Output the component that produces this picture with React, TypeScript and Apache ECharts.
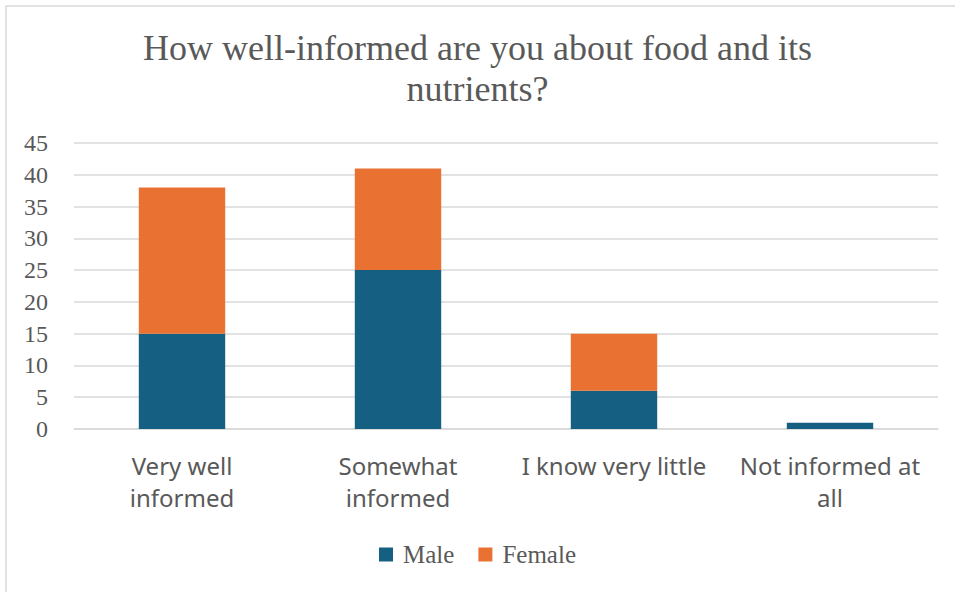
import React, { useEffect, useRef } from "react";
import * as echarts from "echarts";

const categories = [
  "Very well\ninformed",
  "Somewhat\ninformed",
  "I know very little",
  "Not informed at\nall",
];
const maleValues = [15, 25, 6, 1];
const femaleValues = [23, 16, 9, 0];
const yTicks = { min: 0, max: 45, interval: 5 };

const TEXT = "#595959";
const SERIF = "'Liberation Serif', 'DejaVu Serif', serif";
const SANS = "'Noto Sans', 'Open Sans', sans-serif";

export default function App() {
  const ref = useRef<HTMLDivElement>(null);

  useEffect(() => {
    if (!ref.current) return;
    const chart = echarts.init(ref.current, undefined, { renderer: "svg" });
    chart.setOption({
      animation: false,
      backgroundColor: "#ffffff",
      title: {
        text: "How well-informed are you about food and its\nnutrients?",
        left: "center",
        top: 22,
        textStyle: {
          fontFamily: SERIF,
          fontSize: 36,
          fontWeight: "normal",
          color: TEXT,
          lineHeight: 41,
        },
      },
      graphic: [
        {
          type: "rect",
          shape: { x: 6, y: 6, width: 960, height: 600 },
          style: { fill: "none", stroke: "#d9d9d9", lineWidth: 1.5 },
          silent: true,
        },
      ],
      legend: {
        bottom: 20,
        left: "center",
        itemWidth: 14,
        itemHeight: 14,
        itemGap: 24,
        icon: "rect",
        textStyle: {
          fontFamily: SERIF,
          fontSize: 25,
          color: TEXT,
          padding: [0, 0, 0, 5],
        },
        data: ["Male", "Female"],
      },
      grid: { left: 74, right: 17, top: 143, bottom: 163 },
      xAxis: {
        type: "category",
        data: categories,
        axisLine: { show: true, lineStyle: { color: "#d9d9d9", width: 1.5 } },
        axisTick: { show: false },
        axisLabel: {
          fontFamily: SANS,
          fontSize: 24,
          color: TEXT,
          lineHeight: 32,
          margin: 20,
          interval: 0,
        },
      },
      yAxis: {
        type: "value",
        min: yTicks.min,
        max: yTicks.max,
        interval: yTicks.interval,
        axisLine: { show: false },
        axisTick: { show: false },
        splitLine: { lineStyle: { color: "#d9d9d9", width: 1.5 } },
        axisLabel: {
          fontFamily: SERIF,
          fontSize: 24,
          color: TEXT,
          margin: 26,
        },
      },
      series: [
        {
          name: "Male",
          type: "bar",
          stack: "total",
          data: maleValues,
          barWidth: "40%",
          itemStyle: { color: "#156082" },
        },
        {
          name: "Female",
          type: "bar",
          stack: "total",
          data: femaleValues,
          barWidth: "40%",
          itemStyle: { color: "#E97132" },
        },
      ],
    });
    return () => chart.dispose();
  }, []);

  return (
    <div
      ref={ref}
      style={{ position: "fixed", left: 0, top: 0, width: 955, height: 592 }}
    />
  );
}
